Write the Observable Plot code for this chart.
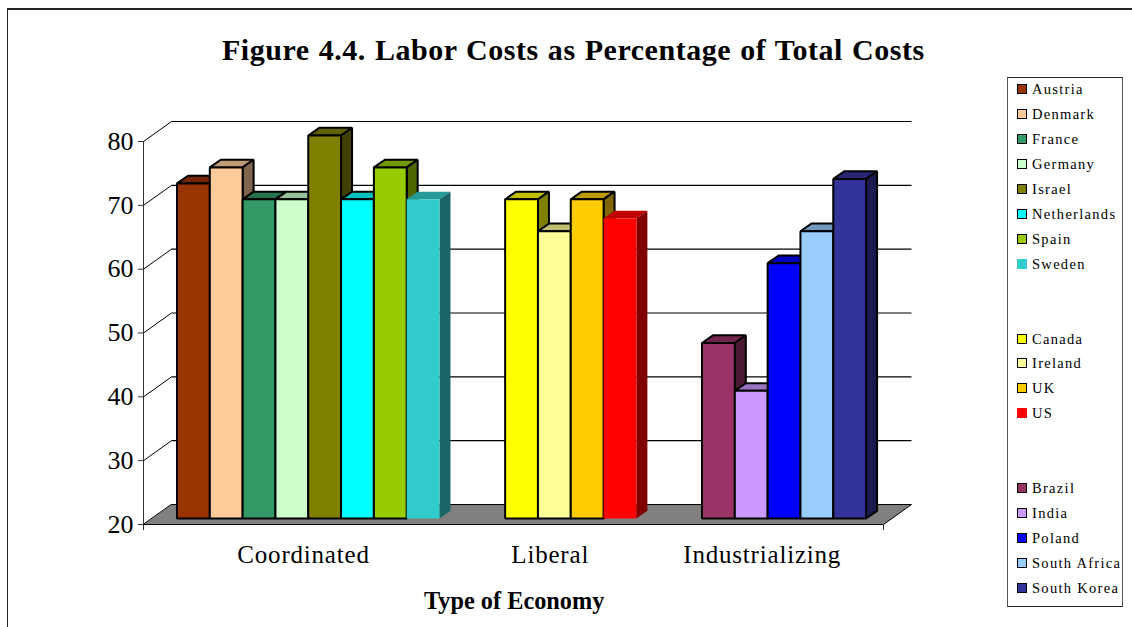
<!DOCTYPE html>
<html>
<head>
<meta charset="utf-8">
<script src="https://cdn.jsdelivr.net/npm/d3@7"></script>
<script src="https://cdn.jsdelivr.net/npm/@observablehq/plot@0.6"></script>
<style>
  html, body { margin: 0; padding: 0; background: #fff; }
  #page { position: relative; width: 1132px; height: 627px; overflow: hidden; font-family: "Liberation Serif", serif; color: #000; }
  #frame { position: absolute; left: 6.5px; top: 8px; width: 1126px; height: 619px; border-top: 2px solid #222; border-left: 1.5px solid #222; box-sizing: border-box; }
  #title { position: absolute; left: 222px; top: 32px; margin: 0; font-size: 30px; line-height: 36px; font-weight: bold; white-space: nowrap; word-spacing: 1px; letter-spacing: 0.54px; }
  #chart { position: absolute; left: 0; top: 100px; }
  #chart svg text { font-family: "Liberation Serif", serif; }
  #chart .groupLabel text { letter-spacing: 0.8px; }
  #legend { position: absolute; left: 1007px; top: 77px; width: 116px; height: 530px; box-sizing: border-box; border: 1.5px solid #555; border-top-color: #222; border-bottom-color: #222; background: #fff; }
  .item { position: absolute; left: 9px; height: 20px; line-height: 20px; font-size: 14.5px; letter-spacing: 1.3px; white-space: nowrap; }
  .swatch { display: inline-block; position: absolute; left: 0; top: 5px; width: 10px; height: 10px; box-sizing: border-box; }
  .item span.t { position: absolute; left: 15px; top: 0; }
</style>
</head>
<body>
<div id="page">
  <div id="frame"></div>
  <h1 id="title">Figure 4.4. Labor Costs as Percentage of Total Costs</h1>
  <div id="chart"></div>
  <div id="legend"></div>
</div>
<script>
// Data. Slots include the blank series that separate the groups.
const countries = ["Austria","Denmark","France","Germany","Israel","Netherlands","Spain","Sweden",
                   "Canada","Ireland","UK","US",
                   "Brazil","India","Poland","South Africa","South Korea"];
const slots  = [0,1,2,3,4,5,6,7, 10,11,12,13, 16,17,18,19,20];
const values = [72.5,75,70,70,80,70,75,70, 70,65,70,67, 47.5,40,60,65,73.2];
const colors = ["#993300","#FFCC99","#339966","#CCFFCC","#808000","#00FFFF","#99CC00","#33CCCC",
                "#FFFF00","#FFFF99","#FFCC00","#FF0000",
                "#993366","#CC99FF","#0000FF","#99CCFF","#333399"];
const unoutlined = ["Sweden","US"];
const yTicks = [20,30,40,50,60,70,80];
const groups = ["Coordinated","Liberal","Industrializing"];
const groupSlots = [4.1, 11.62, 18.08];
const xDomain = [-0.776, 21.776];
const yBase = 20;

// 3-D projection, in the units of the x and y scales
const wallDx = 0.853, wallDy = 3.13;      // depth of the floor / walls
const barDx = 0.335,  barDy = 1.2;        // depth of one bar
const planeDx = 0.245, planeDy = 0.94;    // where the bars stand on the floor

const shade = (c, k) => { const o = d3.rgb(c); return d3.rgb(o.r*k, o.g*k, o.b*k).formatHex(); };

const faces = [];
countries.forEach((name, i) => {
  const x0 = slots[i] + planeDx, x1 = x0 + 1;
  const y0 = yBase + planeDy, y1 = values[i] + planeDy;
  const stroke = unoutlined.includes(name) ? "none" : "#000";
  const add = (face, fill, pts) => pts.forEach(([x, y]) =>
    faces.push({key: name + face, x, y, fill, stroke}));
  add("-top", shade(colors[i], 0.75), [[x0,y1],[x1,y1],[x1+barDx,y1+barDy],[x0+barDx,y1+barDy]]);
  add("-side", shade(colors[i], 0.5), [[x1,y0],[x1+barDx,y0+barDy],[x1+barDx,y1+barDy],[x1,y1]]);
  add("-front", colors[i], [[x0,y0],[x1,y0],[x1,y1],[x0,y1]]);
});

const [xa, xb] = xDomain;
const floor = [[xa,yBase],[xb,yBase],[xb+wallDx,yBase+wallDy],[xa+wallDx,yBase+wallDy]]
  .map(([x,y]) => ({x,y}));
const gridTicks = yTicks.filter(v => v > yBase);

const chart = Plot.plot({
  width: 1132, height: 527,
  marginLeft: 143, marginRight: 249, marginTop: 41, marginBottom: 103,
  x: {domain: xDomain, axis: null},
  y: {domain: [yBase, 80], axis: null},
  color: {type: "identity"},
  style: {background: "transparent", overflow: "visible"},
  marks: [
    // side wall diagonals and back wall grid lines
    Plot.link(gridTicks, {x1: xa, y1: d => d, x2: xa + wallDx, y2: d => d + wallDy, stroke: "#000", strokeWidth: 1}),
    Plot.link(gridTicks, {x1: xa + wallDx, y1: d => d + wallDy, x2: xb + wallDx, y2: d => d + wallDy, stroke: "#000", strokeWidth: 1.2}),
    // floor
    Plot.line(floor, {x: "x", y: "y", curve: "linear-closed", fill: "#808080", stroke: "#000", strokeWidth: 1}),
    // bars
    Plot.line(faces, {x: "x", y: "y", z: "key", curve: "linear-closed", fill: "fill", stroke: "stroke", strokeWidth: 2, strokeLinejoin: "miter"}),
    // axes
    Plot.ruleX([xa], {y1: yBase, y2: 80, stroke: "#333", strokeWidth: 1}),
    Plot.axisY({ticks: yTicks, tickSize: 5, tickPadding: 5, fontSize: 26, label: null, stroke: "#333"}),
    Plot.axisX({ticks: xDomain, tickSize: 6, tickFormat: () => "", label: null, stroke: "#333"}),
    Plot.text(groups, {x: (d, i) => groupSlots[i], y: yBase, text: d => d, dy: 30, fontSize: 25, className: "groupLabel"}),
    Plot.text(["Type of Economy"], {x: 10.52, y: yBase, text: d => d, dy: 77, fontSize: 24.3, fontWeight: "bold"})
  ]
});
document.getElementById("chart").append(chart);

// Legend: one row per slot, so the blank series leave the same gaps as in the bars
const legend = document.getElementById("legend");
countries.forEach((name, i) => {
  const item = document.createElement("div");
  item.className = "item";
  item.style.top = (1 + 24.95 * slots[i]) + "px";
  const sw = document.createElement("span");
  sw.className = "swatch";
  sw.style.background = colors[i];
  sw.style.border = unoutlined.includes(name) ? "none" : "1.5px solid #000";
  const t = document.createElement("span");
  t.className = "t";
  t.textContent = name;
  item.append(sw, t);
  legend.append(item);
});
</script>
</body>
</html>
